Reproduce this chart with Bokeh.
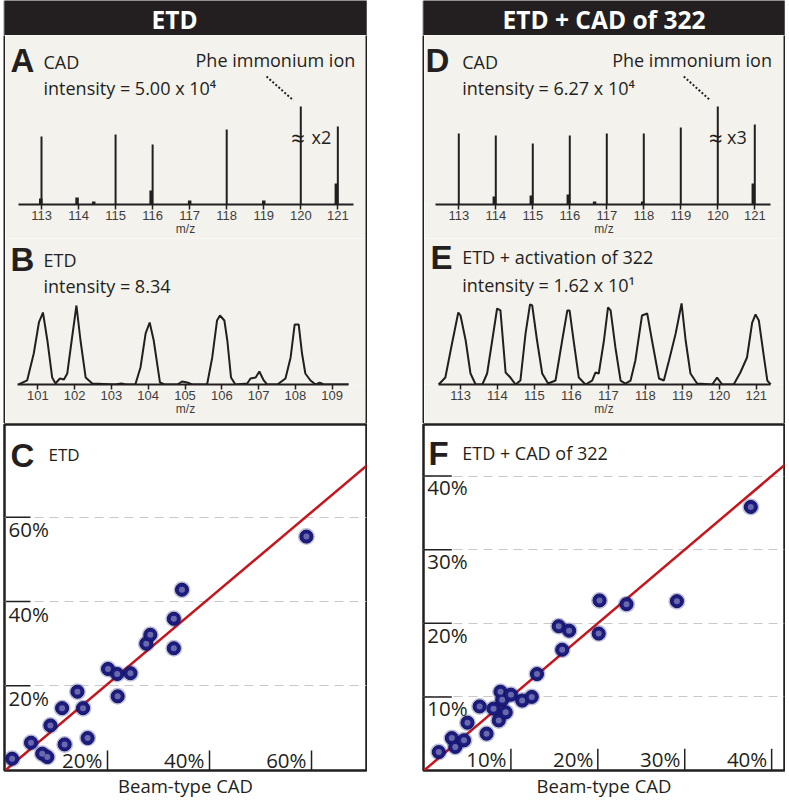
from bokeh.plotting import figure
from bokeh.layouts import row, column
from bokeh.models import Spacer, FixedTicker, Grid, Range1d
from bokeh.core.properties import value
from bokeh.embed import file_html
from bokeh.resources import INLINE

FONT = "Open Sans"
TIGHT = "Liberation Sans"
INK = "#231f20"
AXGRAY = "#3c3c3c"
BEIGE = "#f4f2ec"
DOT_DARK = "#1c1c80"
DOT_LIGHT = "#7272b0"
FIT_RED = "#c4161c"

# ---------------- data ----------------
# Panel A: CAD (ETD column), stick spectrum, relative intensity (Phe peak = 100, shown /2)
cad_etd_mz = [113, 115, 116, 118, 120, 121]
cad_etd_int = [69.4, 71.4, 61.2, 76.5, 100.0, 79.6]
cad_etd_minor_mz = [112.98, 113.96, 114.41, 115.96, 117.0, 119.0, 120.96]
cad_etd_minor_int = [6.1, 7.1, 3.1, 14.3, 4.1, 4.1, 21.4]

# Panel D: CAD (ETD + CAD of 322 column)
cad_322_mz = [113, 114, 115, 116, 117, 118, 119, 120, 121]
cad_322_int = [72.4, 70.4, 62.2, 70.4, 72.4, 72.4, 78.6, 100.0, 81.6]
cad_322_minor_mz = [113.96, 114.96, 115.96, 116.67, 117.97, 120.96]
cad_322_minor_int = [8.2, 9.2, 10.2, 3.1, 3.1, 21.4]

# Panel B: ETD profile spectrum
etd_mz = [100.48, 100.71, 100.89, 101.03, 101.14, 101.26, 101.39, 101.48, 101.60, 101.71,
          101.80, 101.92, 102.05, 102.16, 102.30, 102.48, 103.10, 103.27, 103.40, 103.65,
          103.79, 103.93, 104.04, 104.15, 104.32, 104.44, 104.79, 104.92, 105.06, 105.20,
          105.60, 105.74, 105.87, 105.95, 106.07, 106.15, 106.25, 106.37, 106.69, 106.78,
          106.92, 107.02, 107.14, 107.23, 107.51, 107.73, 107.87, 107.98, 108.09, 108.18,
          108.27, 108.41, 108.55, 108.66, 108.77, 109.45]
etd_int = [0, 5.1, 39.2, 78.5, 91.1, 55.7, 8.9, 1.3, 7.6, 6.3,
           13.9, 55.7, 100, 55.7, 8.9, 1.3, 0, 1.3, 0, 0,
           21.5, 64.6, 78.5, 55.7, 2.5, 0, 0, 3.8, 2.5, 0,
           0, 34.2, 81.0, 87.3, 81.0, 55.7, 8.9, 0, 1.3, 7.6,
           8.9, 16.5, 5.1, 0, 0, 7.6, 34.2, 75.9, 75.9, 39.2,
           13.9, 5.1, 0, 2.5, 0, 0]

# Panel E: ETD + activation of 322 profile spectrum
etda_mz = [112.41, 112.59, 112.77, 112.94, 113.00, 113.14, 113.27, 113.41, 113.59, 113.72,
           113.87, 113.99, 114.08, 114.22, 114.35, 114.49, 114.62, 114.76, 114.88, 114.94,
           115.07, 115.21, 115.37, 115.57, 115.75, 115.89, 115.95, 116.07, 116.20, 116.38,
           116.56, 116.65, 116.74, 116.88, 116.99, 117.06, 117.19, 117.33, 117.46, 117.60,
           117.73, 117.91, 118.05, 118.18, 118.37, 118.50, 118.64, 118.82, 118.98, 119.09,
           119.22, 119.40, 119.81, 119.94, 120.08, 120.39, 120.57, 120.75, 120.89, 120.98,
           121.07, 121.21, 121.30, 121.39]
etda_int = [0, 8.6, 50.6, 88.9, 85.2, 54.3, 13.6, 0, 0, 13.6,
            58.0, 93.8, 91.4, 14.8, 8.6, 0, 4.9, 63.0, 98.8, 97.5,
            54.3, 13.6, 1.2, 4.9, 54.3, 91.4, 91.4, 50.6, 8.6, 0,
            4.9, 14.8, 13.6, 54.3, 95.1, 91.4, 45.7, 4.9, 1.2, 4.9,
            29.6, 85.2, 87.7, 54.3, 7.4, 4.9, 29.6, 63.0, 100, 54.3,
            13.6, 1.2, 0, 8.6, 0, 0, 14.8, 33.3, 76.5, 86.4,
            79.0, 33.3, 4.9, 0]

cad_ticks = [113, 114, 115, 116, 117, 118, 119, 120, 121]
etd_ticks = [101, 102, 103, 104, 105, 106, 107, 108, 109]

# Panel C: ETD vs beam-type CAD (%)
c_x = [1.3, 5.0, 7.2, 8.2, 8.8, 11.1, 11.6, 14.1, 15.2, 16.1, 20.1, 21.9, 22.0, 24.5,
       27.6, 28.4, 33.0, 33.0, 34.6, 59.0]
c_y = [2.7, 6.5, 3.9, 3.1, 10.6, 14.7, 6.1, 18.6, 14.7, 7.6, 24.0, 22.8, 17.5, 23.0,
       30.0, 32.1, 35.9, 28.9, 42.8, 55.4]
c_ticks = [20, 40, 60]
c_fit_slope = 1.02
c_fit_x = [0, 72]

# Panel F: ETD + CAD of 322 vs beam-type CAD (%)
f_x = [1.7, 3.2, 3.6, 4.6, 5.0, 6.4, 7.2, 8.0, 8.6, 8.8, 9.0, 9.4, 10.0, 11.3, 12.4, 13.0,
       15.5, 15.9, 16.7, 20.2, 20.1, 23.3, 29.1, 37.6]
f_y = [2.5, 4.4, 3.2, 4.1, 6.5, 8.7, 5.0, 8.4, 6.8, 10.7, 9.6, 7.9, 10.3, 9.5, 10.0, 13.1,
       19.6, 16.4, 19.0, 23.1, 18.6, 22.6, 23.0, 35.8]
f_ticks = [10, 20, 30, 40]
f_fit_slope = 1.0
f_fit_x = [0, 42]


# ---------------- helpers ----------------
def txt(p, x, y, s, size, bold=False, color=INK, align="left", font=FONT):
    p.text(x=[x], y=[y], text=[s], text_font=value(font), text_font_size=size,
           text_font_style="bold" if bold else "normal", text_color=color,
           text_align=align, text_baseline="middle", text_line_height=1.0)


def letter(p, x, y, s):
    txt(p, x, y, s, "33px", bold=True, font=TIGHT)


def plain(w, h, bg):
    p = figure(width=w, height=h, x_range=Range1d(0, 1), y_range=Range1d(0, 1),
               x_axis_type=None, y_axis_type=None, toolbar_location=None,
               output_backend="svg", background_fill_color=bg, border_fill_color=bg,
               outline_line_color=None, min_border=0)
    return p


def header(w, label, xc):
    p = plain(w, 35, INK)
    txt(p, xc, 0.463, label, "24.5px", bold=True, color="white", align="center")
    return p


def strip(h):
    return plain(2, h, INK)


def spectrum_fig(w, h, xr, yr, ticks, bounds, bottom):
    p = figure(width=w, height=h, x_range=Range1d(*xr), y_range=Range1d(*yr),
               y_axis_type=None, toolbar_location=None, output_backend="svg",
               background_fill_color=BEIGE, border_fill_color=BEIGE,
               outline_line_color=None, min_border_left=0, min_border_right=0,
               min_border_top=0, min_border_bottom=bottom)
    ax = p.xaxis[0]
    ax.ticker = FixedTicker(ticks=ticks)
    ax.bounds = bounds
    ax.axis_line_width = 2
    ax.axis_line_color = INK
    ax.major_tick_line_color = INK
    ax.major_tick_line_width = 1.5
    ax.major_tick_out = 5
    ax.major_tick_in = 0
    ax.minor_tick_line_color = None
    ax.major_label_text_font = TIGHT
    ax.major_label_text_font_size = "13px"
    ax.major_label_text_color = AXGRAY
    ax.major_label_text_line_height = 1.0
    ax.major_label_standoff = 1
    ax.axis_label = "m/z"
    ax.axis_label_text_font = TIGHT
    ax.axis_label_text_font_size = "12px"
    ax.axis_label_text_font_style = "normal"
    ax.axis_label_text_color = AXGRAY
    ax.axis_label_text_line_height = 1.0
    ax.axis_label_standoff = -1
    p.xgrid.visible = False
    return p


def scatter_fig(w, xr, yr, xs, ys, ticks, slope, fit_x, ylab_dx, ylab_dy, ytick_len,
                xlab_dx, xlab_y, xtick_len, let, let_xy, title, title_xy, title_size):
    p = figure(width=w, height=377, x_range=Range1d(*xr), y_range=Range1d(*yr),
               y_axis_type=None, toolbar_location=None, output_backend="svg",
               background_fill_color="white", border_fill_color="white",
               outline_line_color=INK, outline_line_width=2.5,
               min_border_left=1, min_border_right=1, min_border_top=1, min_border_bottom=30)
    ax = p.xaxis[0]
    ax.ticker = FixedTicker(ticks=[])
    ax.axis_line_color = None
    ax.major_tick_line_color = None
    ax.major_tick_out = 0
    ax.major_tick_in = 0
    ax.minor_tick_line_color = None
    ax.minor_tick_out = 0
    ax.major_label_standoff = 0
    ax.major_label_text_font_size = "0px"
    ax.axis_label = "Beam-type CAD"
    ax.axis_label_text_font = FONT
    ax.axis_label_text_font_size = "18.5px"
    ax.axis_label_text_font_style = "normal"
    ax.axis_label_text_color = INK
    ax.axis_label_text_line_height = 1.0
    ax.axis_label_standoff = 2
    p.xgrid.visible = False
    p.add_layout(Grid(dimension=1, ticker=FixedTicker(ticks=ticks),
                      grid_line_color="#c9c9c9", grid_line_dash="9 6", grid_line_width=1.2))
    n = len(ticks)
    # y tick marks + labels (inside plot)
    p.segment(x0=[0] * n, y0=ticks, x1=[ytick_len] * n, y1=ticks,
              line_color=INK, line_width=1.5)
    p.text(x=[ylab_dx] * n, y=[t - ylab_dy for t in ticks],
           text=["%d%%" % t for t in ticks], text_font=value(FONT), text_font_size="20.5px",
           text_color=INK, text_align="left", text_baseline="middle", text_line_height=1.0)
    # x tick marks + labels (inside plot)
    p.segment(x0=ticks, y0=[0] * n, x1=ticks, y1=[xtick_len] * n,
              line_color=INK, line_width=1.5)
    p.text(x=[t - xlab_dx for t in ticks], y=[xlab_y] * n,
           text=["%d%%" % t for t in ticks], text_font=value(FONT), text_font_size="20.5px",
           text_color=INK, text_align="right", text_baseline="middle", text_line_height=1.0)
    # fit line
    p.line(x=fit_x, y=[slope * v for v in fit_x], line_color=FIT_RED, line_width=2.5)
    # points (soft halo + dark ring + light core)
    p.scatter(x=xs, y=ys, size=17, fill_color="#20208a", fill_alpha=0.3, line_color=None)
    p.scatter(x=xs, y=ys, size=13, fill_color=DOT_DARK, line_color="#12125e", line_width=1)
    p.scatter(x=xs, y=ys, size=6, fill_color=DOT_LIGHT, fill_alpha=0.9, line_color=None)
    letter(p, let_xy[0], let_xy[1], let)
    txt(p, title_xy[0], title_xy[1], title, title_size)
    return p


# ---------------- left column (ETD) ----------------
hdrL = header(364, "ETD", 0.47)

pA = spectrum_fig(360, 203, (112.028, 121.747), (0, 172.4), cad_ticks, (112.379, 121.423), 34)
pA.segment(x0=cad_etd_minor_mz, y0=0, x1=cad_etd_minor_mz, y1=cad_etd_minor_int,
           line_color=INK, line_width=3.5)
pA.segment(x0=cad_etd_mz, y0=0, x1=cad_etd_mz, y1=cad_etd_int, line_color=INK, line_width=2)
letter(pA, 112.163, 147.3, "A")
txt(pA, 113.054, 145.6, "CAD", "18px")
txt(pA, 113.054, 118.4, "intensity = 5.00 x 10\u2074", "18px")
txt(pA, 117.158, 147.2, "Phe immonium ion", "18px")
pA.line(x=[119.074, 119.803], y=[130.6, 106.1], line_color=INK, line_width=2, line_dash="2 2")
txt(pA, 119.93, 68.4, "\u2248", "24px", align="center")
txt(pA, 120.29, 68.4, "x2", "18px")

pB = spectrum_fig(360, 185, (100.122, 109.905), (0, 184.8), etd_ticks, (100.448, 109.443), 39)
pB.line(x=etd_mz, y=etd_int, line_color=INK, line_width=2)
letter(pB, 100.258, 158.7, "B")
txt(pB, 101.155, 158.2, "ETD", "18px")
txt(pB, 101.155, 124.9, "intensity = 8.34", "18px")

pC = scatter_fig(364, (-0.196, 70.78), (-0.095, 82.0), c_x, c_y, c_ticks, c_fit_slope, c_fit_x,
                 0.59, 2.86, 4.9, 0.98, 2.4, 4.65, "C", (0.98, 74.6), "ETD", (8.43, 74.85), "17px")

left_col = column(hdrL, row(strip(388), column(pA, pB), strip(388)), pC)

# ---------------- right column (ETD + CAD of 322) ----------------
hdrR = header(363, "ETD + CAD of 322", 0.5)

pD = spectrum_fig(359, 203, (112.073, 121.776), (0, 172.4), cad_ticks, (112.370, 121.424), 34)
pD.segment(x0=cad_322_minor_mz, y0=0, x1=cad_322_minor_mz, y1=cad_322_minor_int,
           line_color=INK, line_width=3.5)
pD.segment(x0=cad_322_mz, y0=0, x1=cad_322_mz, y1=cad_322_int, line_color=INK, line_width=2)
letter(pD, 112.10, 147.3, "D")
txt(pD, 113.092, 145.6, "CAD", "18px")
txt(pD, 113.092, 118.4, "intensity = 6.27 x 10\u2074", "18px")
txt(pD, 117.146, 147.2, "Phe immonium ion", "18px")
pD.line(x=[119.081, 119.803], y=[130.6, 106.1], line_color=INK, line_width=2, line_dash="2 2")
txt(pD, 119.95, 68.4, "\u2248", "24px", align="center")
txt(pD, 120.25, 68.4, "x3", "18px")

pE = spectrum_fig(359, 185, (112.026, 121.737), (0, 180.2), cad_ticks, (112.405, 121.385), 39)
pE.line(x=etda_mz, y=etda_int, line_color=INK, line_width=2)
letter(pE, 112.19, 156.9, "E")
txt(pE, 113.046, 156.8, "ETD + activation of 322", "18px")
txt(pE, 113.046, 122.6, "intensity = 1.62 x 10\u00b9", "18px")

pF = scatter_fig(363, (-0.058, 41.48), (0, 47.0), f_x, f_y, f_ticks, f_fit_slope, f_fit_x,
                 0.37, 1.53, 3.2, 0.5, 1.54, 2.95, "F", (0.52, 43.0), "ETD + CAD of 322",
                 (4.40, 43.07), "18px")

right_col = column(hdrR, row(strip(388), column(pD, pE), strip(388)), pF)

layout = row(Spacer(width=3, height=800), left_col, Spacer(width=55, height=800), right_col)

open("out.html", "w").write(file_html(layout, INLINE))
